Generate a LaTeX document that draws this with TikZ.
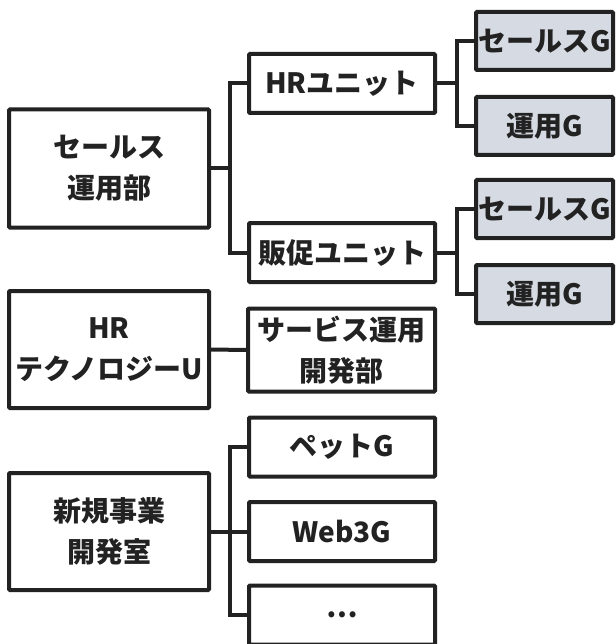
\documentclass[tikz,border=0pt]{standalone}
\usepackage{fontspec}
\setmainfont{Noto Sans CJK JP}
\definecolor{orgline}{HTML}{222222}
\definecolor{groupfill}{HTML}{D6DBE3}
\begin{document}
\begin{tikzpicture}[x=1pt,y=-1pt,
    orgbox/.style={draw=orgline,line width=4pt,rounded corners=1pt,fill=white,
        inner sep=0pt,align=center,text=orgline,
        font=\fontsize{28}{41}\selectfont\bfseries},
    deptbox/.style={orgbox,minimum width=200pt,minimum height=118pt},
    unitbox/.style={orgbox,minimum width=186pt,minimum height=59pt},
    groupbox/.style={orgbox,fill=groupfill,minimum width=137pt,minimum height=58pt},
    link/.style={draw=orgline,line width=4pt}]
    \useasboundingbox (0,0) rectangle (615,644);
    \node[deptbox] (salesops) at (109,168.5) {セールス\\運用部};
    \node[unitbox] (hrunit) at (342,83.5) {HRユニット};
    \node[unitbox] (promounit) at (342,252.5) {販促ユニット};
    \node[groupbox] (hrsales) at (544.5,41) {セールスG};
    \node[groupbox] (hrops) at (544.5,126) {運用G};
    \node[groupbox] (promosales) at (544.5,209) {セールスG};
    \node[groupbox] (promoops) at (544.5,294) {運用G};
    \node[deptbox,minimum height=117pt] (hrtech) at (109,349.5) {HR\\テクノロジーU};
    \node[unitbox,minimum width=187pt,minimum height=83pt] (servicedev) at (341.5,350) {サービス運用\\開発部};
    \node[deptbox,minimum height=117pt] (newbiz) at (109,531.5) {新規事業\\開発室};
    \node[unitbox] (petg) at (342,447) {ペットG};
    \node[unitbox] (webg) at (342,531.5) {Web3G};
    \node[unitbox] (more) at (342,615) {…};
    \draw[link] (salesops.east) -- ++(19,0) |- (hrunit.west);
    \draw[link] (salesops.east) -- ++(19,0) |- (promounit.west);
    \draw[link] (hrunit.east) -- ++(20,0) |- (hrsales.west);
    \draw[link] (hrunit.east) -- ++(20,0) |- (hrops.west);
    \draw[link] (promounit.east) -- ++(20,0) |- (promosales.west);
    \draw[link] (promounit.east) -- ++(20,0) |- (promoops.west);
    \draw[link] (hrtech.east) -- (servicedev.west);
    \draw[link] (newbiz.east) -- ++(19,0) |- (petg.west);
    \draw[link] (newbiz.east) -- ++(19,0) |- (webg.west);
    \draw[link] (newbiz.east) -- ++(19,0) |- (more.west);
\end{tikzpicture}
\end{document}
